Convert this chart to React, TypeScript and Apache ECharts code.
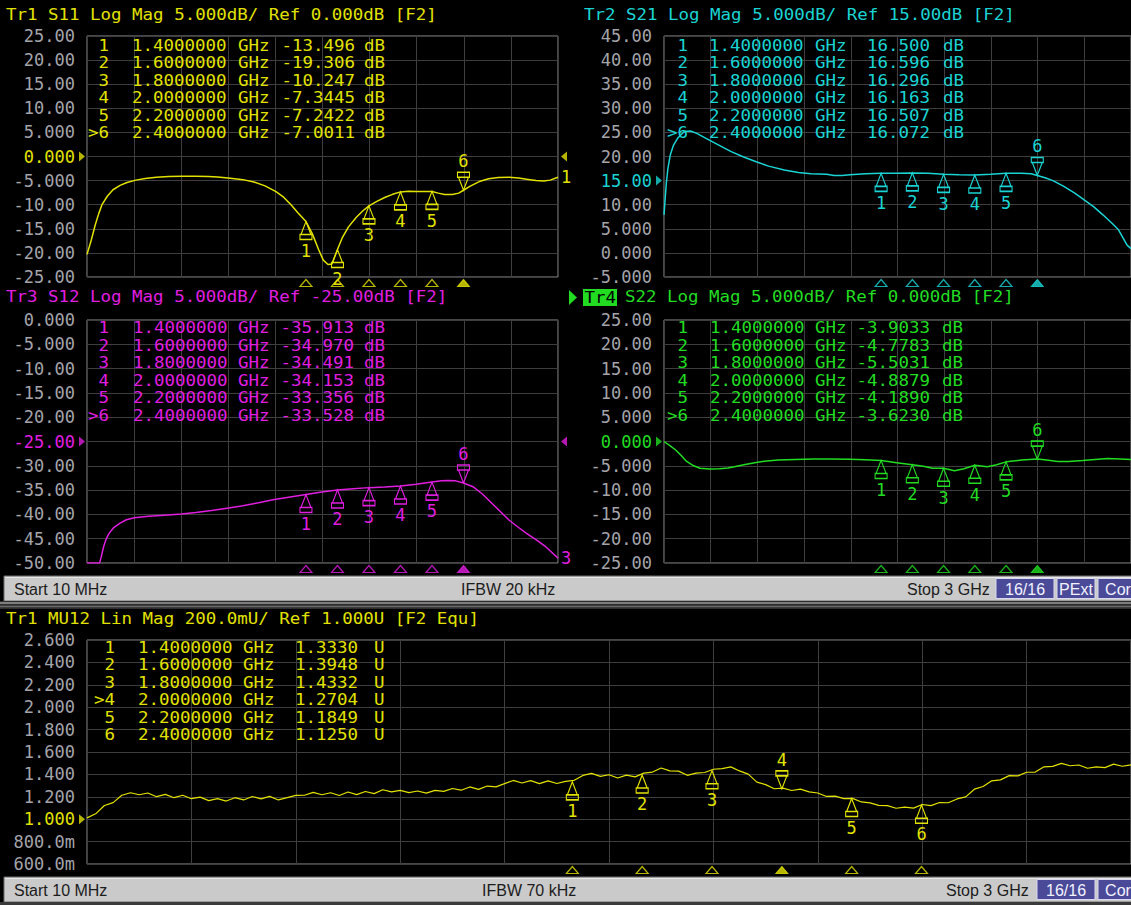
import React, { useEffect, useRef } from "react";
import * as echarts from "echarts";

const MONO = "'DejaVu Sans Mono', 'Liberation Mono', monospace";
const SANS = "'Liberation Sans', 'DejaVu Sans', sans-serif";
const FS = 17;
const TFS = 15; // table / title font, stretched horizontally
const TSX = 1.165;

const YELLOW = "#e2e200";
const CYAN = "#1ad4d4";
const MAGENTA = "#e01ee0";
const GREEN = "#22dc22";
const AXIS_GRAY = "#a4a4aa";
const GRID_LINE = "#3e3e3e";
const GRID_BORDER = "#8e8e8e";

const START_GHZ = 0.01;
const STOP_GHZ = 3;
const MARKER_FREQS = [1.4, 1.6, 1.8, 2.0, 2.2, 2.4];

const S11_MARKERS = [-13.496, -19.306, -10.247, -7.3445, -7.2422, -7.0011];
const S21_MARKERS = [16.5, 16.596, 16.296, 16.163, 16.507, 16.072];
const S12_MARKERS = [-35.913, -34.97, -34.491, -34.153, -33.356, -33.528];
const S22_MARKERS = [-3.9033, -4.7783, -5.5031, -4.8879, -4.189, -3.623];
const MU12_MARKERS = [1.333, 1.3948, 1.4332, 1.2704, 1.1849, 1.125];

// [GHz, dB]
const S11_TRACE = [
  [0.01, -20.3], [0.035, -17.6], [0.063, -14.1], [0.085, -11.8], [0.105, -10.0], [0.14, -8.2],
  [0.175, -6.9], [0.22, -6.0], [0.264, -5.4], [0.32, -4.9], [0.38, -4.55], [0.45, -4.3],
  [0.53, -4.15], [0.61, -4.08], [0.7, -4.1], [0.78, -4.15], [0.84, -4.25], [0.92, -4.5],
  [1.0, -4.8], [1.07, -5.3], [1.14, -6.1], [1.21, -7.3], [1.26, -8.5], [1.305, -10.0],
  [1.35, -11.7], [1.4, -13.496], [1.44, -16.0], [1.48, -19.3], [1.51, -21.5], [1.54, -22.4],
  [1.565, -22.3], [1.58, -21.0], [1.6, -19.306], [1.63, -16.9], [1.67, -14.6], [1.72, -12.6],
  [1.76, -11.3], [1.8, -10.247], [1.85, -9.3], [1.9, -8.5], [1.95, -7.85], [2.0, -7.3445],
  [2.05, -7.2], [2.1, -7.25], [2.15, -7.25], [2.2, -7.2422], [2.24, -7.6], [2.28, -7.9],
  [2.33, -7.9], [2.37, -7.6], [2.4, -7.0011], [2.44, -6.2], [2.5, -5.2], [2.56, -4.6],
  [2.62, -4.35], [2.69, -4.3], [2.75, -4.45], [2.8, -4.7], [2.86, -5.0], [2.91, -5.1],
  [2.95, -4.9], [3.0, -4.3],
];

const S21_TRACE = [
  [0.01, 7.9], [0.018, 11.5], [0.025, 14.5], [0.035, 17.5], [0.05, 20.3], [0.07, 22.3],
  [0.1, 23.9], [0.14, 25.2], [0.18, 25.3], [0.22, 24.8], [0.3, 23.4], [0.37, 22.2],
  [0.44, 21.0], [0.52, 19.9], [0.6, 18.9], [0.68, 18.0], [0.78, 17.2], [0.87, 16.7],
  [0.95, 16.4], [1.05, 16.3], [1.1, 16.05], [1.15, 16.05], [1.2, 16.2], [1.3, 16.4],
  [1.4, 16.5], [1.5, 16.55], [1.6, 16.596], [1.7, 16.5], [1.8, 16.296], [1.9, 16.2],
  [2.0, 16.163], [2.1, 16.3], [2.2, 16.507], [2.3, 16.5], [2.36, 16.4], [2.4, 16.072],
  [2.45, 15.6], [2.5, 15.0], [2.57, 13.8], [2.64, 12.4], [2.7, 11.0], [2.76, 9.6],
  [2.82, 7.9], [2.88, 6.1], [2.92, 4.8], [2.975, 1.6], [3.0, 0.9],
];

const S12_TRACE = [
  [0.01, -50], [0.09, -50], [0.1, -48.8], [0.115, -46.7], [0.13, -45.2], [0.15, -43.9],
  [0.18, -42.7], [0.22, -41.8], [0.26, -41.1], [0.31, -40.7], [0.4, -40.4], [0.5, -40.15],
  [0.61, -39.9], [0.7, -39.6], [0.8, -39.2], [0.91, -38.7], [1.0, -38.2], [1.1, -37.6],
  [1.19, -37.0], [1.3, -36.4], [1.4, -35.913], [1.5, -35.4], [1.6, -34.97], [1.7, -34.7],
  [1.8, -34.491], [1.9, -34.35], [2.0, -34.153], [2.1, -33.8], [2.2, -33.356], [2.26, -33.1],
  [2.3, -33.0], [2.35, -33.1], [2.4, -33.528], [2.46, -34.3], [2.52, -35.8], [2.58, -37.7],
  [2.64, -39.6], [2.69, -41.2], [2.75, -42.7], [2.8, -43.9], [2.86, -45.2], [2.92, -46.6],
  [2.96, -47.8], [3.0, -49.0],
];

const S22_TRACE = [
  [0.01, 0], [0.05, -0.9], [0.085, -1.75], [0.12, -2.9], [0.155, -4.1], [0.2, -5.0],
  [0.24, -5.5], [0.3, -5.65], [0.365, -5.6], [0.42, -5.45], [0.46, -5.2], [0.53, -4.75],
  [0.6, -4.3], [0.67, -4.0], [0.74, -3.8], [0.85, -3.7], [0.97, -3.6], [1.08, -3.6],
  [1.2, -3.65], [1.3, -3.75], [1.4, -3.9033], [1.5, -4.35], [1.6, -4.7783], [1.67, -5.1],
  [1.73, -5.5], [1.8, -5.5031], [1.87, -6.0], [1.93, -5.6], [2.0, -4.8879], [2.08, -5.2],
  [2.14, -4.8], [2.2, -4.189], [2.3, -3.8], [2.4, -3.623], [2.46, -3.8], [2.53, -4.1],
  [2.6, -4.1], [2.69, -3.9], [2.77, -3.7], [2.85, -3.5], [2.93, -3.6], [3.0, -3.7],
];

// linear sweep, 121 points from start to stop (U)
const MU12_VALUES = [
  1.012, 1.048, 1.122, 1.148, 1.214, 1.236, 1.218, 1.234, 1.201, 1.222,
  1.192, 1.214, 1.183, 1.197, 1.166, 1.183, 1.162, 1.192, 1.172, 1.203,
  1.181, 1.204, 1.172, 1.193, 1.212, 1.214, 1.239, 1.218, 1.236, 1.212,
  1.243, 1.219, 1.247, 1.228, 1.263, 1.244, 1.258, 1.238, 1.252, 1.233,
  1.258, 1.248, 1.274, 1.259, 1.288, 1.266, 1.296, 1.289, 1.318, 1.346,
  1.323, 1.344, 1.318, 1.342, 1.319, 1.338, 1.347, 1.391, 1.409, 1.382,
  1.397, 1.368, 1.394, 1.378, 1.411, 1.421, 1.457, 1.431, 1.429, 1.392,
  1.411, 1.417, 1.446, 1.452, 1.467, 1.431, 1.402, 1.331, 1.309, 1.272,
  1.277, 1.256, 1.269, 1.244, 1.234, 1.203, 1.206, 1.184, 1.186, 1.154,
  1.146, 1.124, 1.121, 1.098, 1.108, 1.099, 1.131, 1.121, 1.149, 1.147,
  1.181, 1.199, 1.268, 1.292, 1.343, 1.351, 1.389, 1.387, 1.419, 1.421,
  1.468, 1.472, 1.498, 1.477, 1.484, 1.455, 1.468, 1.461, 1.492, 1.473,
  1.486,
];
const MU12_TRACE = MU12_VALUES.map((v, i) => [
  START_GHZ + (i * (STOP_GHZ - START_GHZ)) / (MU12_VALUES.length - 1),
  v,
]);

const fmtDb = (v: number) => (Math.abs(v) >= 9.999 ? v.toFixed(2) : v.toFixed(3));
const fmtU = (v: number) => (v < 0.999 ? (v * 1000).toFixed(1) + "m" : v.toFixed(3));

const PANELS = [
  {
    title: "Tr1 S11 Log Mag 5.000dB/ Ref 0.000dB [F2]", titleX: 6, titleY: 15, color: YELLOW,
    grid: { left: 87, top: 36, width: 471, height: 241 },
    yMin: -25, yMax: 25, yStep: 5, ref: 0, fmt: fmtDb, trace: S11_TRACE,
    markers: S11_MARKERS, active: 5, unit: "dB",
    cols: { num: 109, freq: 132, ghz: 238, valR: 355, unit: 364 }, rowY: 45.5,
    endLabel: "1", rightRef: true, lineWidth: 1.5,
  },
  {
    title: "Tr2 S21 Log Mag 5.000dB/ Ref 15.00dB [F2]", titleX: 584, titleY: 15, color: CYAN,
    grid: { left: 664, top: 36, width: 471, height: 241 },
    yMin: -5, yMax: 45, yStep: 5, ref: 15, fmt: fmtDb, trace: S21_TRACE,
    markers: S21_MARKERS, active: 5, unit: "dB",
    cols: { num: 688, freq: 709, ghz: 815, valR: 930, unit: 943 }, rowY: 45.5,
    endLabel: "", rightRef: false, lineWidth: 1.5,
  },
  {
    title: "Tr3 S12 Log Mag 5.000dB/ Ref -25.00dB [F2]", titleX: 6, titleY: 297, color: MAGENTA,
    grid: { left: 87, top: 320, width: 471, height: 243 },
    yMin: -50, yMax: 0, yStep: 5, ref: -25, fmt: fmtDb, trace: S12_TRACE,
    markers: S12_MARKERS, active: 5, unit: "dB",
    cols: { num: 109, freq: 133, ghz: 238, valR: 354, unit: 364 }, rowY: 328,
    endLabel: "3", rightRef: true, lineWidth: 1.5,
  },
  {
    title: "S22 Log Mag 5.000dB/ Ref 0.000dB [F2]", titleX: 625, titleY: 297, color: GREEN,
    grid: { left: 664, top: 320, width: 471, height: 243 },
    yMin: -25, yMax: 25, yStep: 5, ref: 0, fmt: fmtDb, trace: S22_TRACE,
    markers: S22_MARKERS, active: 5, unit: "dB",
    cols: { num: 688, freq: 710, ghz: 815, valR: 930, unit: 942 }, rowY: 328,
    endLabel: "", rightRef: false, lineWidth: 1.5,
  },
  {
    title: "Tr1 MU12 Lin Mag 200.0mU/ Ref 1.000U [F2 Equ]", titleX: 6, titleY: 619, color: YELLOW,
    grid: { left: 87, top: 640, width: 1044, height: 224 },
    yMin: 0.6, yMax: 2.6, yStep: 0.2, ref: 1, fmt: fmtU, trace: MU12_TRACE,
    markers: MU12_MARKERS, active: 3, unit: "U",
    cols: { num: 115, freq: 138, ghz: 243, valR: 358, unit: 374 }, rowY: 647.5,
    endLabel: "", rightRef: false, lineWidth: 1.2,
  },
];

const UP_MARK = "path://M6 0L1 13L11 13ZM0 13L12 13L12 18L0 18Z";
const DOWN_MARK = "path://M0 0L12 0L12 5L0 5ZM1 5L11 5L6 18Z";

const stretchedText = (text: string, x: number, y: number, fill: string, align = "left", z = 10) => ({
  type: "text", x, y, scaleX: TSX, scaleY: 1, silent: true, z,
  style: { text, fill, fontFamily: MONO, fontSize: TFS, verticalAlign: "middle", align },
});

function buildOption() {
  const grid: any[] = [];
  const xAxis: any[] = [];
  const yAxis: any[] = [];
  const series: any[] = [];
  const graphic: any[] = [];

  PANELS.forEach((p, i) => {
    grid.push({ ...p.grid, show: true, borderColor: GRID_BORDER, borderWidth: 1, backgroundColor: "transparent" });
    xAxis.push({ gridIndex: i, type: "value", min: START_GHZ, max: STOP_GHZ, show: false, position: "bottom" });
    xAxis.push({
      gridIndex: i, type: "value", min: 0, max: 10, interval: 1, position: "top",
      axisLine: { show: false }, axisTick: { show: false }, axisLabel: { show: false },
      splitLine: { show: true, lineStyle: { color: GRID_LINE, width: 1 } },
    });
    yAxis.push({
      gridIndex: i, type: "value", min: p.yMin, max: p.yMax, interval: p.yStep,
      axisLine: { show: false }, axisTick: { show: false },
      splitLine: { show: true, lineStyle: { color: GRID_LINE, width: 1 } },
      axisLabel: {
        margin: 12, fontFamily: MONO, fontSize: FS,
        formatter: (v: number) => p.fmt(v),
        color: (v: any) => (Math.abs(Number(v) - p.ref) < 1e-6 ? p.color : AXIS_GRAY),
      },
    });

    const xi = i * 2;
    series.push({
      type: "line", xAxisIndex: xi, yAxisIndex: i, data: p.trace, showSymbol: false, symbol: "none",
      silent: true, lineStyle: { color: p.color, width: p.lineWidth }, itemStyle: { color: p.color }, z: 3,
      endLabel: p.endLabel
        ? { show: true, formatter: p.endLabel, color: p.color, fontFamily: MONO, fontSize: FS, distance: 3 }
        : { show: false },
      markPoint: {
        silent: true,
        data: MARKER_FREQS.map((f, k) => {
          const act = k === p.active;
          return {
            coord: [f, p.markers[k]],
            symbol: act ? DOWN_MARK : UP_MARK,
            symbolSize: [12, 18],
            symbolOffset: [0, act ? "-50%" : "50%"],
            itemStyle: { color: "rgba(0,0,0,0)", borderColor: p.color, borderWidth: 1.3 },
            label: {
              show: true, formatter: String(k + 1), position: act ? "top" : "bottom", distance: 2,
              color: p.color, fontFamily: MONO, fontSize: FS,
            },
          };
        }),
      },
    });
    // marker position indicators below the grid
    series.push({
      type: "scatter", xAxisIndex: xi, yAxisIndex: i, silent: true, clip: false, z: 4,
      symbol: "triangle", symbolSize: [12, 7], symbolOffset: [0, 6],
      data: MARKER_FREQS.map((f, k) => ({
        value: [f, p.yMin],
        itemStyle: k === p.active
          ? { color: p.color, borderColor: p.color, borderWidth: 1 }
          : { color: "rgba(0,0,0,0)", borderColor: p.color, borderWidth: 1.2 },
      })),
    });
    // reference level indicators
    series.push({
      type: "scatter", xAxisIndex: xi, yAxisIndex: i, silent: true, clip: false, z: 4,
      symbol: "triangle", symbolSize: [10, 6], symbolRotate: -90, symbolOffset: [-5, 0],
      itemStyle: { color: p.color }, data: [[START_GHZ, p.ref]],
    });
    if (p.rightRef) {
      series.push({
        type: "scatter", xAxisIndex: xi, yAxisIndex: i, silent: true, clip: false, z: 4,
        symbol: "triangle", symbolSize: [10, 6], symbolRotate: 90, symbolOffset: [6, 0],
        itemStyle: { color: p.color }, data: [[STOP_GHZ, p.ref]],
      });
    }

    // title
    graphic.push(stretchedText(p.title, p.titleX, p.titleY, p.color));
    // marker table
    MARKER_FREQS.forEach((f, k) => {
      const y = p.rowY + k * 17.5;
      graphic.push(stretchedText((k === p.active ? ">" : "") + String(k + 1), p.cols.num, y, p.color, "right"));
      graphic.push(stretchedText(f.toFixed(7), p.cols.freq, y, p.color));
      graphic.push(stretchedText("GHz", p.cols.ghz, y, p.color));
      graphic.push(stretchedText(p.markers[k].toPrecision(5), p.cols.valR, y, p.color, "right"));
      graphic.push(stretchedText(p.unit, p.cols.unit, y, p.color));
    });
  });

  // Tr4 active trace badge
  graphic.push({ type: "polygon", silent: true, shape: { points: [[569, 290], [577, 297.5], [569, 305]] }, style: { fill: GREEN } });
  graphic.push({ type: "rect", silent: true, shape: { x: 583, y: 289, width: 34, height: 17 }, style: { fill: GREEN } });
  graphic.push(stretchedText("Tr4", 584.5, 297.5, "#000", "left", 12));

  // status bars
  const bar = (y: number, ifbw: string, ifbwX: number, stopX: number, boxes: { t: string; x: number; w: number }[]) => {
    const els: any[] = [
      { type: "rect", silent: true, shape: { x: 4, y, width: 1130, height: 25 }, style: { fill: "#cacaca", stroke: "#6e6e6e", lineWidth: 1 } },
      { type: "line", silent: true, shape: { x1: 5, y1: y + 1.5, x2: 1131, y2: y + 1.5 }, style: { stroke: "#e6e6e6", lineWidth: 1 } },
      { type: "text", x: 14, y: y + 13, silent: true, style: { text: "Start 10 MHz", fill: "#1c1c1c", fontFamily: SANS, fontSize: 16, verticalAlign: "middle" } },
      { type: "text", x: ifbwX, y: y + 13, silent: true, style: { text: ifbw, fill: "#1c1c1c", fontFamily: SANS, fontSize: 16, verticalAlign: "middle" } },
      { type: "text", x: stopX, y: y + 13, silent: true, style: { text: "Stop 3 GHz", fill: "#1c1c1c", fontFamily: SANS, fontSize: 16, verticalAlign: "middle" } },
    ];
    boxes.forEach((b) => {
      els.push({ type: "rect", silent: true, shape: { x: b.x, y: y + 2.5, width: b.w, height: 20 }, style: { fill: "#4a4a98", stroke: "#d8d8f0", lineWidth: 1 } });
      els.push({ type: "text", x: b.x + b.w / 2, y: y + 13, silent: true, style: { text: b.t, fill: "#f2f2ff", fontFamily: SANS, fontSize: 16, align: "center", verticalAlign: "middle" } });
    });
    return els;
  };
  graphic.push(...bar(576, "IFBW 20 kHz", 461, 907, [
    { t: "16/16", x: 996, w: 58 }, { t: "PExt", x: 1057, w: 38 }, { t: "Cor", x: 1098, w: 40 },
  ]));
  graphic.push(...bar(877, "IFBW 70 kHz", 482, 946, [
    { t: "16/16", x: 1037, w: 58 }, { t: "Cor", x: 1098, w: 40 },
  ]));
  // separator under first status bar
  graphic.push({ type: "rect", silent: true, shape: { x: 0, y: 601, width: 1131, height: 8 }, style: { fill: "#2e2e2e" } });
  graphic.push({ type: "line", silent: true, shape: { x1: 0, y1: 603, x2: 1131, y2: 603 }, style: { stroke: "#9a9a9a", lineWidth: 1.5 } });
  graphic.push({ type: "line", silent: true, shape: { x1: 0, y1: 606.5, x2: 1131, y2: 606.5 }, style: { stroke: "#6a6a6a", lineWidth: 1.5 } });
  graphic.push({ type: "rect", silent: true, shape: { x: 0, y: 902, width: 1131, height: 3 }, style: { fill: "#3a3a3a" } });

  return {
    animation: false,
    backgroundColor: "#000000",
    grid, xAxis, yAxis, series, graphic,
  };
}

export default function App() {
  const ref = useRef<HTMLDivElement>(null);
  useEffect(() => {
    if (!ref.current) return;
    const chart = echarts.init(ref.current, undefined, { renderer: "svg" });
    chart.setOption(buildOption() as any);
    return () => chart.dispose();
  }, []);
  return (
    <div
      ref={ref}
      style={{ position: "fixed", left: 0, top: 0, width: 1131, height: 905, background: "#000" }}
    />
  );
}
